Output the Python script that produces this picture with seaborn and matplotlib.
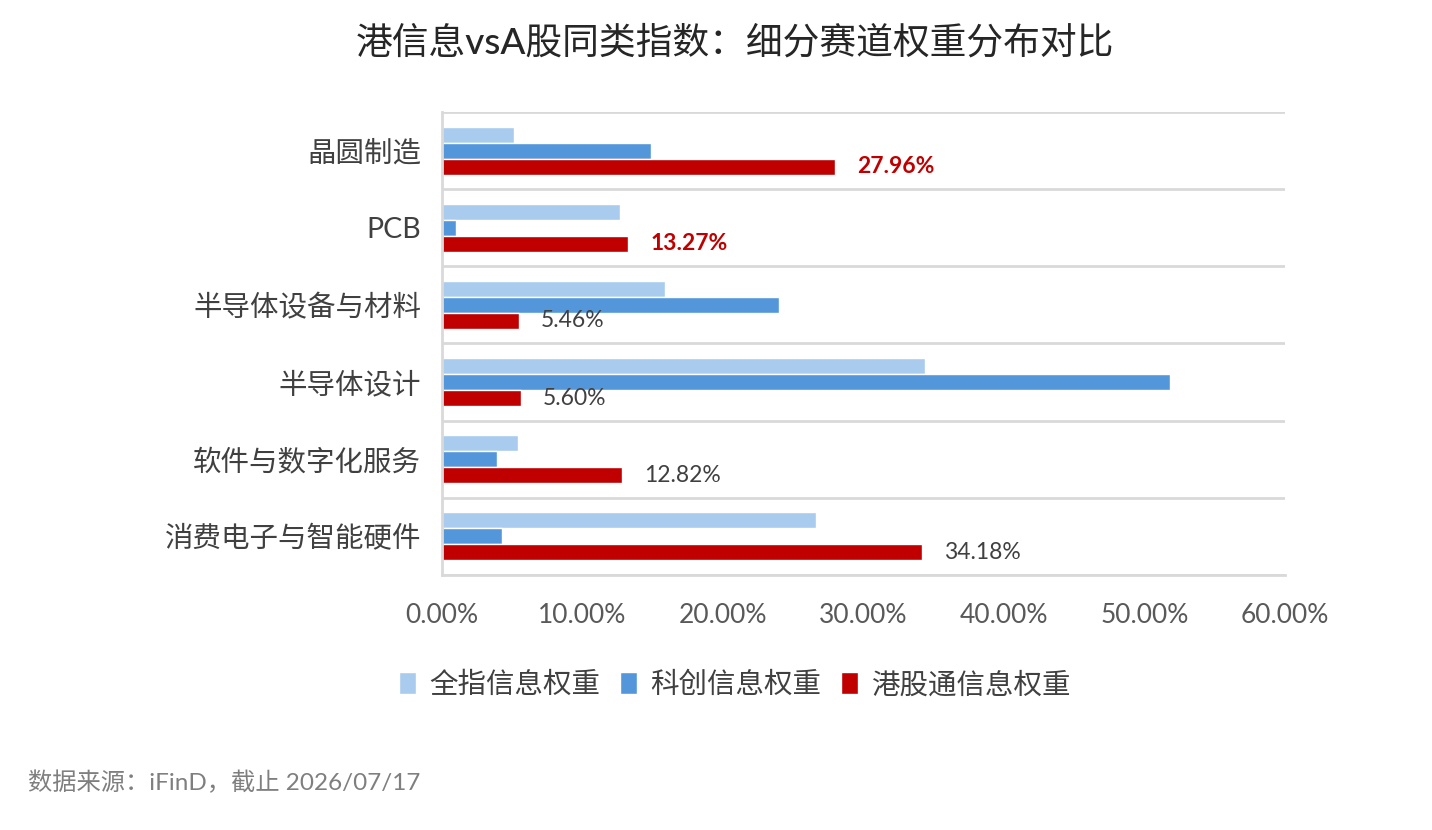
import pandas as pd
import numpy as np
import matplotlib.pyplot as plt
import seaborn as sns

# Chart data
categories = ["晶圆制造", "PCB", "半导体设备与材料", "半导体设计", "软件与数字化服务", "消费电子与智能硬件"]
series_names = ["全指信息权重", "科创信息权重", "港股通信息权重"]
quanzhi = [5.1, 12.7, 15.9, 34.4, 5.4, 26.6]
kechuang = [14.9, 1.0, 24.0, 51.8, 3.9, 4.3]
ganggutong = [27.96, 13.27, 5.46, 5.60, 12.82, 34.18]
label_colors = ["#C00000", "#C00000", "#404040", "#404040", "#404040", "#404040"]
xticks = [0, 10, 20, 30, 40, 50, 60]

df = pd.DataFrame({
    "category": categories * 3,
    "series": np.repeat(series_names, len(categories)),
    "value": quanzhi + kechuang + ganggutong,
})

sns.set_theme(style="white")
plt.rcParams["font.family"] = ["Lato", "Noto Sans CJK SC", "DejaVu Sans"]

fig = plt.figure(figsize=(14.32, 8.3), dpi=100)
ax = fig.add_axes([442 / 1432, 1 - 575 / 830, (1285 - 442) / 1432, (575 - 112) / 830])

palette = ["#A9CBED", "#5397DA", "#C00000"]
sns.barplot(data=df, x="value", y="category", hue="series", order=categories,
            hue_order=series_names, palette=palette, orient="h", width=0.62,
            saturation=1, gap=0, ax=ax, legend=True)

# value labels on the 港股通 series
red = ax.containers[2]
texts = ax.bar_label(red, labels=[f"{v:.2f}%" for v in ganggutong], padding=16,
                     fontsize=16.5)
for t, c in zip(texts, label_colors):
    t.set_color(c)
    if c == "#C00000":
        t.set_fontweight("bold")

ax.set_xlim(0, 60)
ax.set_xticks(xticks)
ax.set_xticklabels([f"{v:.2f}%" for v in xticks], fontsize=19, color="#595959")
ax.set_ylim(len(categories) - 0.5, -0.5)
ax.set_yticks(range(len(categories)))
ax.set_yticklabels(categories, fontsize=20.5, color="#404040")
ax.set_yticks(np.arange(-0.5, len(categories), 1), minor=True)
ax.grid(axis="y", which="minor", color="#D9D9D9", linewidth=2)
ax.grid(axis="y", which="major", visible=False)
ax.tick_params(axis="x", length=0, pad=20)
ax.tick_params(axis="y", which="both", length=0, pad=15)
ax.set_xlabel("")
ax.set_ylabel("")
for s in ["top", "right"]:
    ax.spines[s].set_visible(False)
for s in ["left", "bottom"]:
    ax.spines[s].set_color("#D9D9D9")
    ax.spines[s].set_linewidth(2)

ax.legend(loc="center", bbox_to_anchor=(0.513, 1 - 685 / 830), bbox_transform=fig.transFigure,
          ncol=3, frameon=False, fontsize=20.5, handlelength=0.6, handleheight=0.8,
          handletextpad=0.45, columnspacing=0.7, labelcolor="#404040")

fig.text(0.513, 1 - 42 / 830, "港信息vsA股同类指数：细分赛道权重分布对比", ha="center", va="center",
         fontsize=26.5, color="#262626", fontweight="medium")
fig.text(28 / 1432, 1 - 782 / 830, "数据来源：iFinD，截止 2026/07/17", ha="left", va="center",
         fontsize=17.5, color="#7F7F7F")

fig.savefig("out.png", dpi=100)
